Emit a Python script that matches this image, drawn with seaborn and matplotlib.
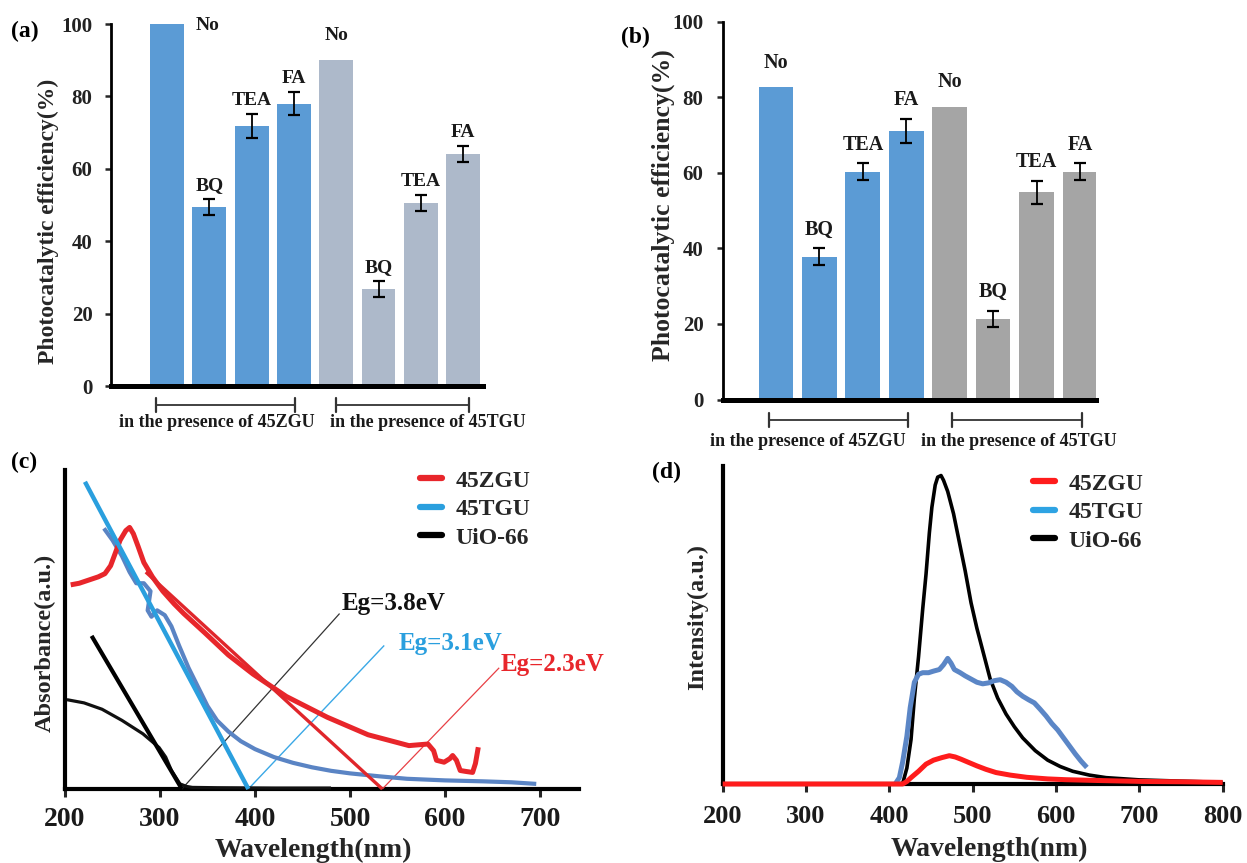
import numpy as np
import pandas as pd
import matplotlib
matplotlib.use("Agg")
import matplotlib.pyplot as plt
from matplotlib.lines import Line2D
import seaborn as sns

# ---------------- data ----------------
scavengers = ["No", "BQ", "TEA", "FA"]
catalysts = ["45ZGU", "45TGU"]

# panel (a)
eff_a_zgu = [100, 49.4, 71.8, 78.0]
eff_a_tgu = [90.1, 26.8, 50.5, 64.0]
err_a_zgu = [0, 2.2, 3.2, 3.2]
err_a_tgu = [0, 2.2, 2.2, 2.2]
# panel (b)
eff_b_zgu = [82.7, 37.8, 60.3, 71.0]
eff_b_tgu = [77.5, 21.4, 54.8, 60.3]
err_b_zgu = [0, 2.2, 2.2, 3.2]
err_b_tgu = [0, 2.1, 3.1, 2.2]

# panel (c) UV-vis absorbance
uv_zgu_nm = [206, 215, 225, 235, 242, 248, 253, 258, 264, 268, 272, 277, 283, 292,
             303, 315, 325, 347, 372, 398, 433, 476, 519, 562, 582, 588, 591, 599,
             605, 608, 612, 616, 622, 629, 632, 635]
uv_zgu_abs = [0.64, 0.645, 0.655, 0.665, 0.675, 0.70, 0.74, 0.78, 0.81, 0.82, 0.80,
              0.76, 0.71, 0.665, 0.62, 0.58, 0.55, 0.49, 0.42, 0.36, 0.29, 0.225,
              0.17, 0.136, 0.141, 0.12, 0.09, 0.084, 0.095, 0.105, 0.09, 0.058,
              0.055, 0.052, 0.08, 0.131]
uv_tgu_nm = [241, 250, 260, 268, 275, 283, 290, 287, 291, 297, 305, 312, 320, 330,
             340, 350, 360, 372, 385, 400, 420, 440, 460, 480, 500, 530, 560, 600,
             640, 670, 696]
uv_tgu_abs = [0.817, 0.78, 0.73, 0.68, 0.645, 0.645, 0.62, 0.56, 0.54, 0.56, 0.545,
              0.51, 0.45, 0.38, 0.32, 0.26, 0.215, 0.18, 0.15, 0.125, 0.10, 0.082,
              0.068, 0.057, 0.049, 0.040, 0.032, 0.027, 0.024, 0.021, 0.016]
uv_uio_nm = [202, 220, 239, 260, 282, 299, 306, 312, 318, 321, 328, 334, 360, 420, 480]
uv_uio_abs = [0.28, 0.27, 0.25, 0.215, 0.173, 0.13, 0.10, 0.058, 0.03, 0.016, 0.008,
              0.005, 0.004, 0.003, 0.003]
# band-gap tangent lines and leader lines (endpoints)
tan_zgu_nm, tan_zgu_abs = [285, 534], [0.68, 0.0]
tan_tgu_nm, tan_tgu_abs = [221, 393], [0.963, 0.0]
tan_uio_nm, tan_uio_abs = [228, 323], [0.48, 0.0]
lead_zgu_nm, lead_zgu_abs = [534, 657], [0.0, 0.38]
lead_tgu_nm, lead_tgu_abs = [393, 536], [0.0, 0.45]
lead_uio_nm, lead_uio_abs = [323, 489], [0.0, 0.55]
eg_labels = ["Eg=2.3eV", "Eg=3.1eV", "Eg=3.8eV"]

# panel (d) PL spectra
pl_uio_nm = [200, 300, 410, 416, 421, 426, 430, 435, 440, 444, 448, 451, 455, 458,
             462, 465, 470, 477, 484, 491, 498, 505, 512, 521, 530, 540, 550, 560,
             575, 590, 605, 620, 640, 660, 700, 750, 800]
pl_uio_int = [0.0, 0.0, 0.0, 0.002, 0.05, 0.14, 0.27, 0.40, 0.55, 0.66, 0.79, 0.87,
              0.94, 0.965, 0.97, 0.955, 0.92, 0.85, 0.76, 0.67, 0.57, 0.49, 0.42,
              0.33, 0.27, 0.22, 0.18, 0.145, 0.105, 0.075, 0.055, 0.04, 0.028, 0.02,
              0.013, 0.009, 0.005]
pl_tgu_nm = [407, 412, 416, 421, 425, 430, 435, 440, 447, 453, 460, 465, 470, 474,
             478, 485, 491, 498, 505, 512, 519, 526, 533, 540, 547, 553, 560, 567,
             574, 581, 588, 595, 602, 609, 616, 623, 630, 637]
pl_tgu_int = [0.0, 0.02, 0.07, 0.15, 0.24, 0.32, 0.345, 0.35, 0.35, 0.355, 0.36,
              0.375, 0.395, 0.38, 0.36, 0.35, 0.34, 0.33, 0.32, 0.315, 0.318, 0.325,
              0.328, 0.32, 0.307, 0.29, 0.276, 0.265, 0.255, 0.235, 0.214, 0.19,
              0.17, 0.145, 0.12, 0.095, 0.072, 0.052]
pl_zgu_nm = [200, 300, 416, 421, 426, 435, 444, 453, 463, 472, 479, 486, 495, 505,
             516, 528, 545, 565, 590, 612, 650, 705, 750, 800]
pl_zgu_int = [0.0, 0.0, 0.0, 0.008, 0.02, 0.04, 0.0625, 0.075, 0.083, 0.089, 0.085,
              0.078, 0.068, 0.057, 0.046, 0.036, 0.028, 0.021, 0.016, 0.0135, 0.011,
              0.008, 0.007, 0.005]

# ---------------- style ----------------
sns.set_style("white")
plt.rcParams['font.family'] = ['Liberation Serif', 'DejaVu Serif']
plt.rcParams['font.weight'] = 'bold'
plt.rcParams['axes.labelweight'] = 'bold'

W, H = 1247, 863
fig = plt.figure(figsize=(W / 100, H / 100), dpi=100)


def px_axes(l, r, t, b):
    return fig.add_axes([l / W, 1 - b / H, (r - l) / W, (b - t) / H])


TXT = '#1a1a1a'


def bar_panel(ax, vz, vt, ez, et, colors, xlim, ylab_fs, ylab_xy, lab_fs,
              pad_err, pad_no, br_y, brackets, btext_x, btext_y, tick_pad):
    keys = [f"{c}-{s}" for c in catalysts for s in scavengers]
    cats = [c for c in catalysts for s in scavengers]
    labs = [s for c in catalysts for s in scavengers]
    vals = np.array(list(vz) + list(vt), float)
    errs = np.array(list(ez) + list(et), float)
    df = pd.DataFrame({"key": keys, "eff": vals, "cat": cats})
    sns.barplot(data=df, x="key", y="eff", hue="cat", palette=colors,
                saturation=1, width=0.8, dodge=False, legend=False,
                linewidth=0, ax=ax, errorbar=None)
    pos = np.arange(len(keys))
    m = errs > 0
    ax.errorbar(pos[m], vals[m], yerr=errs[m], fmt='none', ecolor='black',
                elinewidth=1.3, capsize=4.5, capthick=1.6, zorder=4)
    for p, v, e, t in zip(pos, vals, errs, labs):
        if e > 0:
            ax.text(p, v + e + pad_err, t, ha='center', va='bottom',
                    fontsize=lab_fs, color=TXT)
        elif v + pad_no > 97:
            ax.text(p + 0.95, v - 0.3, t, ha='center', va='center',
                    fontsize=lab_fs, color=TXT)
        else:
            ax.text(p, v + pad_no, t, ha='center', va='bottom',
                    fontsize=lab_fs, color=TXT)
    ax.set_xlim(*xlim)
    ax.set_ylim(0, 100)
    ax.set_yticks([0, 20, 40, 60, 80, 100])
    ax.set_xticks([])
    ax.set_xlabel("")
    ax.tick_params(axis='y', direction='out', length=4, width=1.8, left=True,
                   labelsize=15, pad=tick_pad, labelcolor='#222222')
    for s in ['top', 'right']:
        ax.spines[s].set_visible(False)
    ax.spines['left'].set_linewidth(2.0)
    ax.spines['bottom'].set_linewidth(3.6)
    for s in ['left', 'bottom']:
        ax.spines[s].set_color('black')
    ax.set_ylabel("Photocatalytic efficiency(%)", fontsize=ylab_fs)
    ax.yaxis.set_label_coords(*ylab_xy)
    ax.yaxis.label.set_va('center')
    # brackets
    for (x1, x2) in brackets:
        ax.plot([x1, x2], [br_y, br_y], color='#333333', lw=1.3, clip_on=False)
        for xx in (x1, x2):
            ax.plot([xx, xx], [br_y - 1.9, br_y + 1.9], color='#333333', lw=1.6,
                    clip_on=False)
    for bx, c in zip(btext_x, catalysts):
        ax.text(bx, btext_y, f"in the presence of {c}", ha='center', va='center',
                fontsize=13, color=TXT)


# ---- (a)
ax_a = px_axes(111, 483, 24, 386)
bar_panel(ax_a, eff_a_zgu, eff_a_tgu, err_a_zgu, err_a_tgu,
          ['#5B9BD5', '#ADB9CA'], (-1.324, 7.47), 17, (-0.167, 0.456), 14,
          1.4, 4.3, -5.2, [(-0.26, 3.03), (4.0, 7.13)], [1.18, 6.16], -10.2, 9.4)
# ---- (b)
ax_b = px_axes(723, 1096, 21.7, 399.5)
bar_panel(ax_b, eff_b_zgu, eff_b_tgu, err_b_zgu, err_b_tgu,
          ['#5B9BD5', '#A5A5A5'], (-1.22, 7.37), 18.5, (-0.161, 0.515), 14.5,
          2.3, 3.8, -5.4, [(-0.16, 3.04), (4.06, 7.05)], [0.74, 5.6], -11.0, 10)


def curve_axes(ax, xlim, xticks, xlab_xy, ylab, ylab_xy, tick_pad, tick_fs):
    ax.set_xlim(*xlim)
    ax.set_ylim(0, 1)
    ax.set_xticks(xticks)
    ax.set_yticks([])
    ax.tick_params(axis='x', direction='out', length=6, width=2.2, bottom=True,
                   labelsize=tick_fs, pad=tick_pad, labelcolor='#1a1a1a')
    for s in ['top', 'right']:
        ax.spines[s].set_visible(False)
    for s in ['left', 'bottom']:
        ax.spines[s].set_linewidth(3.0)
        ax.spines[s].set_color('black')
    ax.set_xlabel("Wavelength(nm)", fontsize=20)
    ax.xaxis.set_label_coords(*xlab_xy)
    ax.xaxis.label.set_va('center')
    ax.set_ylabel(ylab, fontsize=17.5)
    ax.yaxis.set_label_coords(*ylab_xy)
    ax.yaxis.label.set_va('center')


def line(ax, x, y, color, lw, z=3):
    sns.lineplot(x=x, y=y, sort=False, estimator=None, color=color, lw=lw,
                 ax=ax, clip_on=False, zorder=z, solid_capstyle='butt')


# ---- (c)
ax_c = px_axes(65, 579, 470, 789)
red_c, lblue_c, blue_c = '#E8262B', '#2A9FDE', '#5A84C4'
line(ax_c, lead_uio_nm, lead_uio_abs, '#333333', 0.9)
line(ax_c, lead_tgu_nm, lead_tgu_abs, '#3AA8E6', 1.0)
line(ax_c, lead_zgu_nm, lead_zgu_abs, '#E84045', 0.9)
line(ax_c, uv_uio_nm, uv_uio_abs, '#111111', 2.3)
line(ax_c, tan_uio_nm, tan_uio_abs, '#000000', 3.0)
line(ax_c, uv_tgu_nm, uv_tgu_abs, blue_c, 3.0)
line(ax_c, uv_zgu_nm, uv_zgu_abs, red_c, 3.6)
line(ax_c, tan_zgu_nm, tan_zgu_abs, '#E0262B', 2.4)
line(ax_c, tan_tgu_nm, tan_tgu_abs, lblue_c, 3.2, z=4)
ax_c.text(lead_uio_nm[1] + 2, lead_uio_abs[1] + 0.03, eg_labels[2], fontsize=18,
          color='#111111', ha='left', va='center')
ax_c.text(lead_tgu_nm[1] + 15, lead_tgu_abs[1] + 0.005, eg_labels[1], fontsize=18,
          color='#2A9FDE', ha='left', va='center')
ax_c.text(lead_zgu_nm[1] + 1, lead_zgu_abs[1] + 0.01, eg_labels[0], fontsize=18,
          color='#E8262B', ha='left', va='center')
curve_axes(ax_c, (200, 741), [200, 300, 400, 500, 600, 700], (0.484, -0.191),
           "Absorbance(a.u.)", (-0.039, 0.458), 7, 20)
hc = [Line2D([], [], color=red_c, lw=4.5), Line2D([], [], color=lblue_c, lw=4.5),
      Line2D([], [], color='black', lw=4.5)]
ax_c.legend(hc, ["45ZGU", "45TGU", "UiO-66"], loc='upper left',
            bbox_to_anchor=(420 / W, 1 - 470 / H), bbox_transform=fig.transFigure,
            frameon=False, fontsize=17, handlelength=0.95, handletextpad=0.55,
            labelspacing=0.3, borderpad=0, borderaxespad=0)

# ---- (d)
ax_d = px_axes(722.7, 1222.7, 466, 784)
line(ax_d, pl_uio_nm, pl_uio_int, '#000000', 2.6)
line(ax_d, pl_tgu_nm, pl_tgu_int, '#5B86C6', 3.6)
line(ax_d, pl_zgu_nm, pl_zgu_int, '#FF1C1C', 3.6, z=5)
curve_axes(ax_d, (200, 800), [200, 300, 400, 500, 600, 700, 800], (0.533, -0.207),
           "Intensity(a.u.)", (-0.051, 0.525), 9, 19)
hd = [Line2D([], [], color='#FF1C1C', lw=4.5), Line2D([], [], color='#2EA3E3', lw=4.5),
      Line2D([], [], color='black', lw=4.5)]
ax_d.legend(hd, ["45ZGU", "45TGU", "UiO-66"], loc='upper left',
            bbox_to_anchor=(1033 / W, 1 - 473 / H), bbox_transform=fig.transFigure,
            frameon=False, fontsize=17, handlelength=0.95, handletextpad=0.55,
            labelspacing=0.3, borderpad=0, borderaxespad=0)

# panel letters
for lab, (x, y) in zip(["(a)", "(b)", "(c)", "(d)"],
                       [(25, 31), (635, 37), (24, 462), (667, 472)]):
    fig.text(x / W, 1 - y / H, lab, fontsize=17, ha='center', va='center', color='black')

fig.savefig("out.png", dpi=100)
